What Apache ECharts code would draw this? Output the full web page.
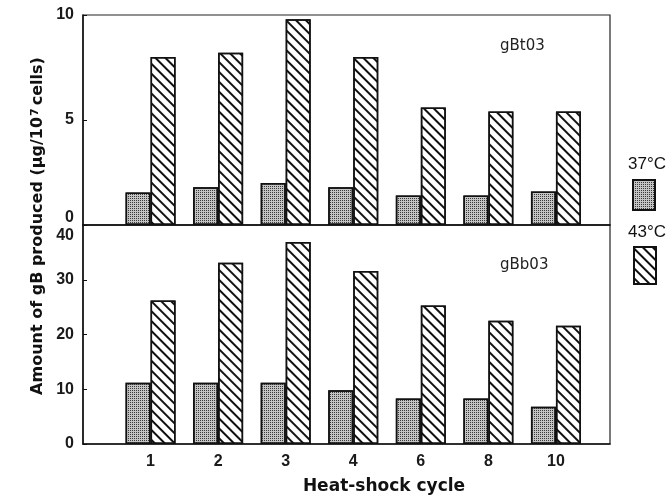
<!DOCTYPE html>
<html lang="en">
<head>
    <meta charset="UTF-8">
    <title>Heat-shock cycle</title>
    <script src="https://cdn.jsdelivr.net/npm/echarts@6/dist/echarts.min.js"></script>
    <style>
      html, body { margin: 0; padding: 0; background: #fff; }
      #chart { width: 667px; height: 501px; }
    </style>
</head>
<body>
  <div id="chart"></div>

  <script type="text/javascript">
    // heat-shock cycles on the x axis
    var cycles = ['1', '2', '3', '4', '6', '8', '10'];
    // gBt03 panel (top), ug / 10^7 cells
    var gBt03_37 = [1.55, 1.8, 2.0, 1.8, 1.4, 1.4, 1.6];
    var gBt03_43 = [8.0, 8.2, 9.8, 8.0, 5.6, 5.4, 5.4];
    // gBb03 panel (bottom)
    var gBb03_37 = [11.2, 11.2, 11.2, 9.8, 8.3, 8.3, 6.8];
    var gBb03_43 = [26.2, 33.1, 36.9, 31.6, 25.3, 22.5, 21.6];

    var topTicks = [0, 5, 10];
    var bottomTicks = [0, 10, 20, 30, 40];

    var dom = document.getElementById('chart');
    var myChart = echarts.init(dom, null, { renderer: 'canvas' });

    function pairs(arr) {
      return arr.map(function (v, i) { return [i, v]; });
    }

    var stipple = {
      symbol: 'rect',
      symbolSize: 1,
      color: '#3a3a3a',
      dashArrayX: [1, 1],
      dashArrayY: [1, 1],
      rotation: 0
    };
    var hatch = {
      symbol: 'rect',
      symbolSize: 1,
      color: '#111',
      dashArrayX: [1, 0],
      dashArrayY: [2, 5],
      rotation: Math.PI / 4
    };
    var style37 = { color: '#c4c4c4', borderColor: '#111', borderWidth: 1.5, decal: stipple };
    var style43 = { color: '#fff', borderColor: '#111', borderWidth: 1.5, decal: hatch };

    var xBase = {
      type: 'value',
      min: -1,
      max: 6.8,
      interval: 1,
      splitLine: { show: false },
      axisTick: { show: false },
      axisLine: { show: true, onZero: false, lineStyle: { color: '#111', width: 1.5 } }
    };

    var labelFont = { fontFamily: 'Liberation Sans', fontWeight: 'bold', fontSize: 16, color: '#1a1a1a' };

    var yLine = { show: true, onZero: false, lineStyle: { color: '#111', width: 1.5 } };
    var yTick = { show: true, inside: true, length: 4, lineStyle: { color: '#111' } };

    var option = {
      backgroundColor: '#fff',
      animation: false,
      title: [
        { text: 'gBt03', left: 500, top: 39, padding: 0,
          textStyle: { fontFamily: 'DejaVu Sans', fontWeight: 'normal', fontSize: 15, color: '#222' } },
        { text: 'gBb03', left: 500, top: 258, padding: 0,
          textStyle: { fontFamily: 'DejaVu Sans', fontWeight: 'normal', fontSize: 15, color: '#222' } }
      ],
      legend: [
        { data: [{ name: '37°C', icon: 'rect' }], left: 632, top: 179, padding: 0, itemWidth: 22, itemHeight: 30,
          formatter: function () { return ''; }, selectedMode: false },
        { data: [{ name: '43°C', icon: 'rect' }], left: 633, top: 246, padding: 0, itemWidth: 22, itemHeight: 37,
          formatter: function () { return ''; }, selectedMode: false }
      ],
      grid: [
        { left: 83, top: 15, width: 527, height: 210, show: true, borderColor: '#222', borderWidth: 1.2 },
        { left: 83, top: 225, width: 527, height: 219, show: true, borderColor: '#222', borderWidth: 1.2 }
      ],
      xAxis: [
        Object.assign({}, xBase, { gridIndex: 0, axisLabel: { show: false } }),
        Object.assign({}, xBase, {
          gridIndex: 1,
          axisLabel: Object.assign({}, labelFont, {
            margin: 10,
            formatter: function (v) {
              return (v >= 0 && v < cycles.length && Math.round(v) === v) ? cycles[v] : '';
            }
          })
        })
      ],
      yAxis: [
        {
          type: 'value', gridIndex: 0, min: 0, max: 10, interval: 5,
          splitLine: { show: false },
          axisLine: yLine,
          axisTick: yTick,
          axisLabel: Object.assign({}, labelFont, {
            margin: 9,
            formatter: function (v) {
              if (topTicks.indexOf(v) < 0) return '';
              return v === 0 ? '{up|0}' : '{n|' + v + '}';
            },
            rich: {
              n: Object.assign({}, labelFont),
              up: Object.assign({}, labelFont, { padding: [0, 0, 15, 0] })
            }
          })
        },
        {
          type: 'value', gridIndex: 1, min: 0, max: 40, interval: 10,
          splitLine: { show: false },
          axisLine: yLine,
          axisTick: yTick,
          axisLabel: Object.assign({}, labelFont, {
            margin: 9,
            formatter: function (v) {
              if (bottomTicks.indexOf(v) < 0) return '';
              return v === 40 ? '{down|40}' : '{n|' + v + '}';
            },
            rich: {
              n: Object.assign({}, labelFont),
              down: Object.assign({}, labelFont, { padding: [22, 0, 0, 0] })
            }
          })
        }
      ],
      graphic: [
        {
          type: 'text', x: 38, y: 226, rotation: Math.PI / 2,
          style: {
            text: 'Amount of gB produced (μg/10{sup|7}cells)',
            fontFamily: 'DejaVu Sans', fontWeight: 'bold', fontSize: 16,
            fill: '#111', align: 'center', verticalAlign: 'middle',
            rich: {
              sup: { fontFamily: 'DejaVu Sans', fontWeight: 'bold', fontSize: 11, fill: '#111',
                verticalAlign: 'top', padding: [0, 3, 0, 1] }
            }
          }
        },
        {
          type: 'text', x: 384, y: 487,
          style: {
            text: 'Heat-shock cycle',
            fontFamily: 'DejaVu Sans', fontWeight: 'bold', fontSize: 17,
            fill: '#111', align: 'center', verticalAlign: 'middle'
          }
        },
        {
          type: 'text', x: 628, y: 156,
          style: { text: '37°C', fontFamily: 'Liberation Sans', fontSize: 17, fill: '#111' }
        },
        {
          type: 'text', x: 628, y: 224,
          style: { text: '43°C', fontFamily: 'Liberation Sans', fontSize: 17, fill: '#111' }
        }
      ],
      series: [
        { name: '37°C', type: 'bar', xAxisIndex: 0, yAxisIndex: 0, barWidth: 25, barGap: '0%',
          itemStyle: style37, data: pairs(gBt03_37) },
        { name: '43°C', type: 'bar', xAxisIndex: 0, yAxisIndex: 0, barWidth: 25, barGap: '0%',
          itemStyle: style43, data: pairs(gBt03_43) },
        { name: '37°C', type: 'bar', xAxisIndex: 1, yAxisIndex: 1, barWidth: 25, barGap: '0%',
          itemStyle: style37, data: pairs(gBb03_37) },
        { name: '43°C', type: 'bar', xAxisIndex: 1, yAxisIndex: 1, barWidth: 25, barGap: '0%',
          itemStyle: style43, data: pairs(gBb03_43) }
      ]
    };

    myChart.setOption(option);
    window.addEventListener('resize', myChart.resize);
  </script>
</body>
</html>
